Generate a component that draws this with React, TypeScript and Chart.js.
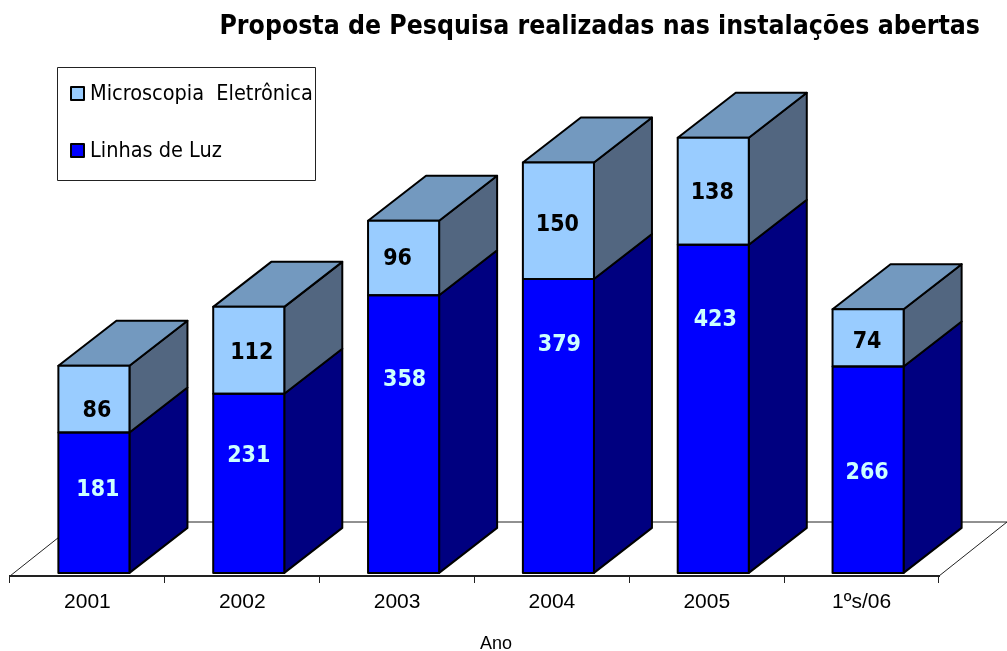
import React, { useEffect, useRef } from "react";
import { Chart, registerables } from "chart.js";

Chart.register(...registerables);

const chartTitle = "Proposta de Pesquisa realizadas nas instalações abertas";
const axisName = "Ano";
const categories = ["2001", "2002", "2003", "2004", "2005", "1ºs/06"];
const linhasDeLuz = [181, 231, 358, 379, 423, 266];
const microscopia = [86, 112, 96, 150, 138, 74];
const seriesNames = ["Linhas de Luz", "Microscopia  Eletrônica"];

// Hand placement of the value labels relative to the centre of each front face
const luzLabelNudge = [[4, -15], [0, -29], [1, -56], [1, -83], [2, -91], [-1, 1]];
const microLabelNudge = [[3, 10], [3, 1], [-6, -1], [-1, 2], [-1, 0], [-1, 2]];

const BAR_SHIFT = 6.5;
const DX = 58;
const DY = 45;
const FLOOR_DX = 68;
const FLOOR_DY = 54;

const frontColors = ["#0000FF", "#99CCFF"];
const sideColors = ["#000080", "#526680"];
const topColor = "#7399BF";
const condensed = "'DejaVu Sans Condensed', 'DejaVu Sans'";

function poly(ctx: CanvasRenderingContext2D, pts: number[][], fill: string | null, stroke: string, lw: number) {
  ctx.beginPath();
  pts.forEach((p, i) => (i ? ctx.lineTo(p[0], p[1]) : ctx.moveTo(p[0], p[1])));
  ctx.closePath();
  if (fill) {
    ctx.fillStyle = fill;
    ctx.fill();
  }
  ctx.lineWidth = lw;
  ctx.strokeStyle = stroke;
  ctx.lineJoin = "round";
  ctx.stroke();
}

const threeD = {
  id: "threeD",
  beforeDatasetsDraw(chart: any) {
    const ctx: CanvasRenderingContext2D = chart.ctx;
    const { left, right, bottom } = chart.chartArea;
    poly(
      ctx,
      [
        [left, bottom],
        [left + FLOOR_DX, bottom - FLOOR_DY],
        [right + FLOOR_DX, bottom - FLOOR_DY],
        [right, bottom],
      ],
      null,
      "#222",
      1
    );
    ctx.save();
    ctx.translate(BAR_SHIFT, 0);
    chart.data.datasets.forEach((_: any, d: number) => {
      chart.getDatasetMeta(d).data.forEach((bar: any) => {
        const r = bar.x + bar.width / 2;
        const l = bar.x - bar.width / 2;
        poly(ctx, [[r, bar.y], [r + DX, bar.y - DY], [r + DX, bar.base - DY], [r, bar.base]], sideColors[d], "#000", 2);
        if (d === chart.data.datasets.length - 1) {
          poly(ctx, [[l, bar.y], [l + DX, bar.y - DY], [r + DX, bar.y - DY], [r, bar.y]], topColor, "#000", 2);
        }
      });
    });
  },
  afterDatasetsDraw(chart: any) {
    const ctx: CanvasRenderingContext2D = chart.ctx;
    // outline of each front face, centred on its edge
    chart.data.datasets.forEach((_: any, d: number) => {
      chart.getDatasetMeta(d).data.forEach((bar: any) => {
        const r = bar.x + bar.width / 2;
        const l = bar.x - bar.width / 2;
        poly(ctx, [[l, bar.y], [r, bar.y], [r, bar.base], [l, bar.base]], null, "#000", 2);
      });
    });
    ctx.textAlign = "center";
    ctx.textBaseline = "middle";
    ctx.font = `bold 23px ${condensed}`;
    chart.data.datasets.forEach((ds: any, d: number) => {
      const nudge = d === 0 ? luzLabelNudge : microLabelNudge;
      ctx.fillStyle = d === 0 ? "#CCFFFF" : "#000";
      chart.getDatasetMeta(d).data.forEach((bar: any, i: number) => {
        ctx.fillText(String(ds.data[i]), bar.x + nudge[i][0], (bar.y + bar.base) / 2 + nudge[i][1] + 2);
      });
    });
    ctx.restore();
  },
  afterDraw(chart: any) {
    const ctx: CanvasRenderingContext2D = chart.ctx;
    ctx.save();
    ctx.fillStyle = "#000";
    ctx.textAlign = "center";
    ctx.textBaseline = "middle";
    ctx.font = "18px 'Liberation Sans'";
    ctx.fillText(axisName, 496, 644);

    ctx.fillStyle = "#fff";
    ctx.fillRect(57.5, 67.5, 258, 113);
    ctx.strokeStyle = "#222";
    ctx.lineWidth = 1;
    ctx.strokeRect(57.5, 67.5, 258, 113);
    const rows = [
      { ds: 1, y: 93 },
      { ds: 0, y: 150 },
    ];
    rows.forEach(({ ds, y }) => {
      ctx.fillStyle = frontColors[ds];
      ctx.fillRect(71, y - 6, 13, 13);
      ctx.strokeStyle = "#000";
      ctx.lineWidth = 2;
      ctx.strokeRect(71, y - 6, 13, 13);
      ctx.fillStyle = "#000";
      ctx.textAlign = "left";
      ctx.font = `21.5px ${condensed}`;
      ctx.fillText(chart.data.datasets[ds].label, 90, y + 1);
    });
    ctx.restore();
  },
};

export default function App() {
  const ref = useRef<HTMLCanvasElement>(null);
  useEffect(() => {
    const chart = new Chart(ref.current as HTMLCanvasElement, {
      type: "bar",
      data: {
        labels: categories,
        datasets: [
          { label: seriesNames[0], data: linhasDeLuz, backgroundColor: frontColors[0] },
          { label: seriesNames[1], data: microscopia, backgroundColor: frontColors[1] },
        ].map((d) => ({
          ...d,
          borderWidth: 0,
          categoryPercentage: 1,
          barPercentage: 0.459,
          clip: false,
        })),
      },
      options: {
        responsive: false,
        animation: false,
        layout: { padding: { left: 10, right: 27, top: 0, bottom: 0 } },
        plugins: {
          legend: { display: false },
          tooltip: { enabled: false },
          title: {
            display: true,
            text: chartTitle,
            align: "end",
            color: "#000",
            font: { family: condensed, size: 26.4, weight: "bold", lineHeight: 1.2 },
            padding: { top: 11.5, bottom: 17 },
          },
        },
        scales: {
          x: {
            stacked: true,
            grid: { drawOnChartArea: false, drawTicks: true, tickLength: 7, tickColor: "#222", offset: true },
            border: { display: true, color: "#222", width: 2 },
            ticks: {
              color: "#000",
              padding: 7,
              maxRotation: 0,
              autoSkip: false,
              font: { family: "'Liberation Sans'", size: 21, lineHeight: 1.2 },
            },
            afterFit(s: any) {
              s.height = 75;
            },
          },
          y: { stacked: true, display: false, min: -4, max: 661 },
          rightGutter: {
            type: "linear",
            position: "right",
            display: true,
            grid: { display: false },
            border: { display: false },
            ticks: { display: false },
            afterFit(s: any) {
              s.width = 41;
            },
          },
        },
      },
      plugins: [threeD],
    } as any);
    return () => chart.destroy();
  }, []);
  return (
    <div style={{ position: "absolute", left: 0, top: 0, width: 1007, height: 651 }}>
      <canvas ref={ref} width={1007} height={651} style={{ display: "block" }} />
    </div>
  );
}
